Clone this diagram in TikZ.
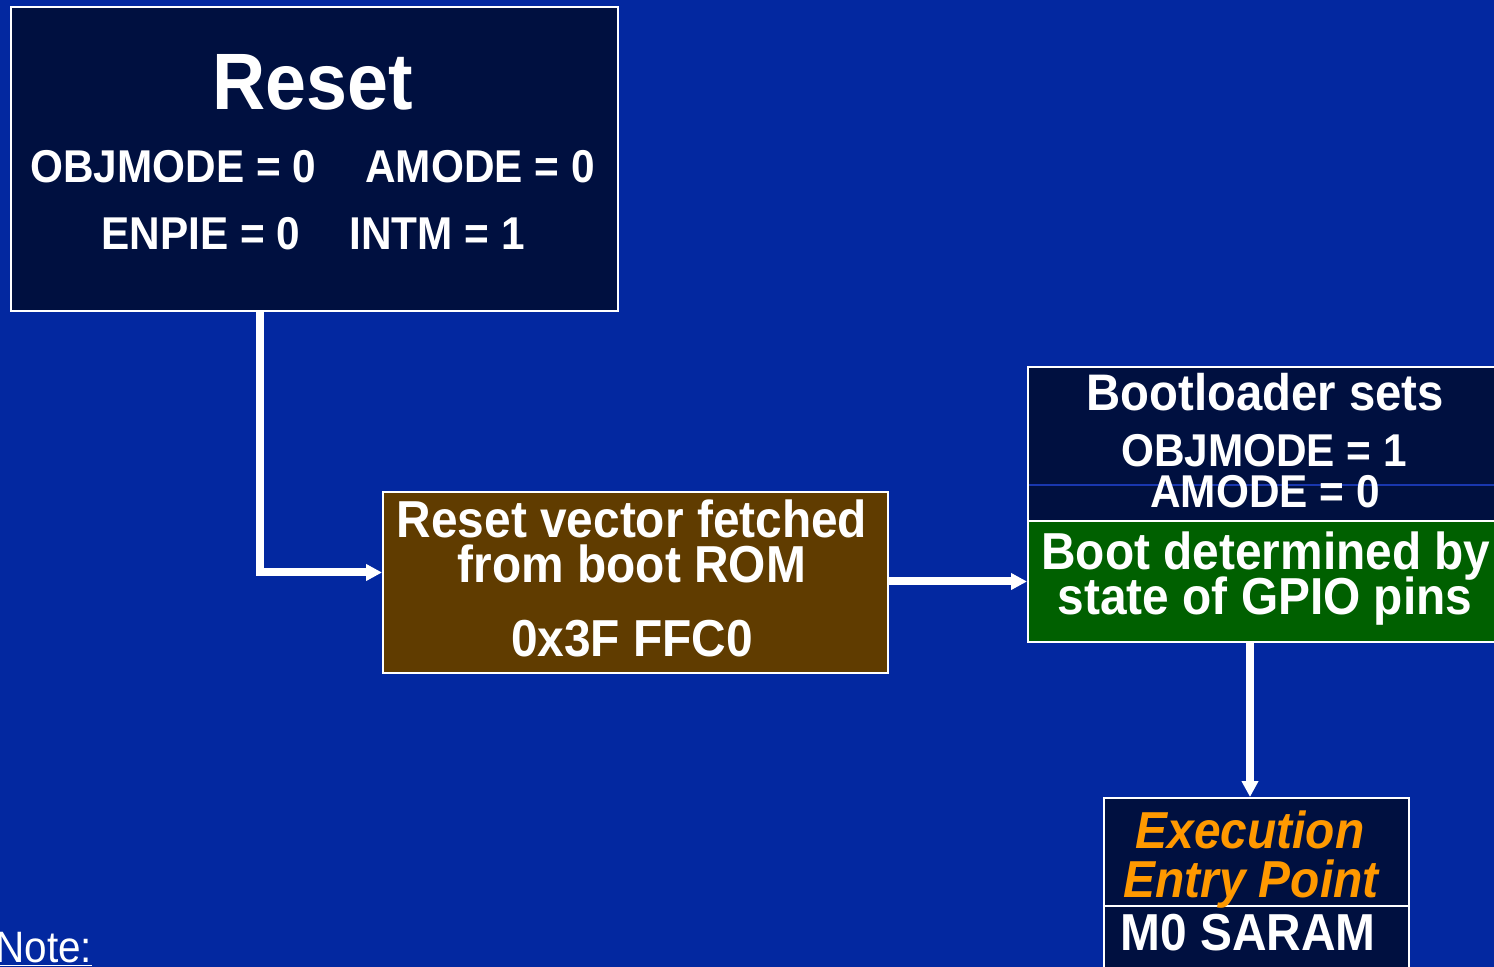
\documentclass[tikz,border=0pt]{standalone}
\usepackage{fontspec}
\setmainfont{Liberation Sans}[FakeStretch=0.92]
\usetikzlibrary{arrows.meta}
\definecolor{slidebg}{RGB}{3,40,160}
\definecolor{navy}{RGB}{0,16,64}
\definecolor{romfill}{RGB}{96,60,0}
\definecolor{gpiofill}{RGB}{0,96,0}
\definecolor{entryorange}{RGB}{255,153,0}
\definecolor{seam}{RGB}{25,55,175}
\begin{document}
\begin{tikzpicture}[x=0.5pt,y=-0.5pt,
  box/.style={draw=white, line width=1pt, inner sep=0pt, anchor=north west},
  txt/.style={text=white, inner sep=0pt, anchor=base, font=\bfseries},
  big/.style={txt, font=\bfseries\fontsize{26}{26}\selectfont},
  mid/.style={txt, font=\bfseries\fontsize{23}{23}\selectfont},
  flow/.style={draw=white, line width=4pt, -{Triangle[length=8pt,width=8pt]}}]
  % page
  \fill[slidebg] (0,0) rectangle (1494,967);
  \useasboundingbox (0,0) rectangle (1494,967);

  % boxes
  \node[box, fill=navy, minimum width=303.5pt, minimum height=152pt] (reset) at (10,6) {};
  \node[box, fill=romfill, minimum width=252.5pt, minimum height=90.5pt] (fetch) at (382,491) {};
  \node[box, fill=navy, minimum width=240pt, minimum height=77pt] (bootset) at (1027,366) {};
  \node[box, fill=gpiofill, minimum width=240pt, minimum height=60.5pt] (gpio) at (1027,520) {};
  \node[box, fill=navy, minimum width=152.5pt, minimum height=54pt] (entry) at (1103,797) {};
  \node[box, fill=navy, minimum width=152.5pt, minimum height=40pt] (mem) at (1103,905) {};
  \draw[seam, line width=0.6pt] (1029,485) -- (1494,485);

  % connectors
  \coordinate (drop) at (260,0);
  \draw[flow] (reset.south -| drop) |- ([yshift=5pt]fetch.west);
  \draw[flow] (fetch.east |- gpio.west) -- (gpio.west);
  \coordinate (down) at (1250,0);
  \draw[flow] (gpio.south -| down) -- (entry.north -| down);

  % reset box text
  \node[txt, font=\bfseries\fontsize{40}{40}\selectfont] (rtitle) at (313,110) {Reset};
  \node[mid, anchor=base west] (robj) at (30,183) {OBJMODE = 0};
  \node[mid, anchor=base west] (ramode) at (365,183) {AMODE = 0};
  \node[mid, anchor=base west] (renpie) at (101,250) {ENPIE = 0};
  \node[mid, anchor=base west] (rintm) at (349,250) {INTM = 1};

  % boot ROM box text
  \node[big] (f1) at (632,538) {Reset vector fetched};
  \node[big] (f2) at (632,583) {from boot ROM};
  \node[big] (f3) at (632,657) {0x3F FFC0};

  % bootloader box text
  \node[big, font=\bfseries\fontsize{25.7}{26}\selectfont] (b1) at (1265,411) {Bootloader sets};
  \node[mid] (b2) at (1264,467) {OBJMODE = 1};
  \node[mid] (b3) at (1265,508) {AMODE = 0};

  % GPIO box text
  \node[big] (g1) at (1266,570) {Boot determined by};
  \node[big] (g2) at (1265,615) {state of GPIO pins};

  % entry point text
  \node[big, text=entryorange, font=\bfseries\itshape\fontsize{26}{26}\selectfont] (e1) at (1250,848) {Execution};
  \node[big, text=entryorange, font=\bfseries\itshape\fontsize{26}{26}\selectfont] (e2) at (1251,897) {Entry Point};
  \node[big] (m1) at (1248,950) {M0 SARAM};

  % footnote
  \node[txt, font=\fontsize{22}{22}\selectfont, anchor=base west] (note) at (-5,962) {\underline{Note:}};
\end{tikzpicture}
\end{document}
